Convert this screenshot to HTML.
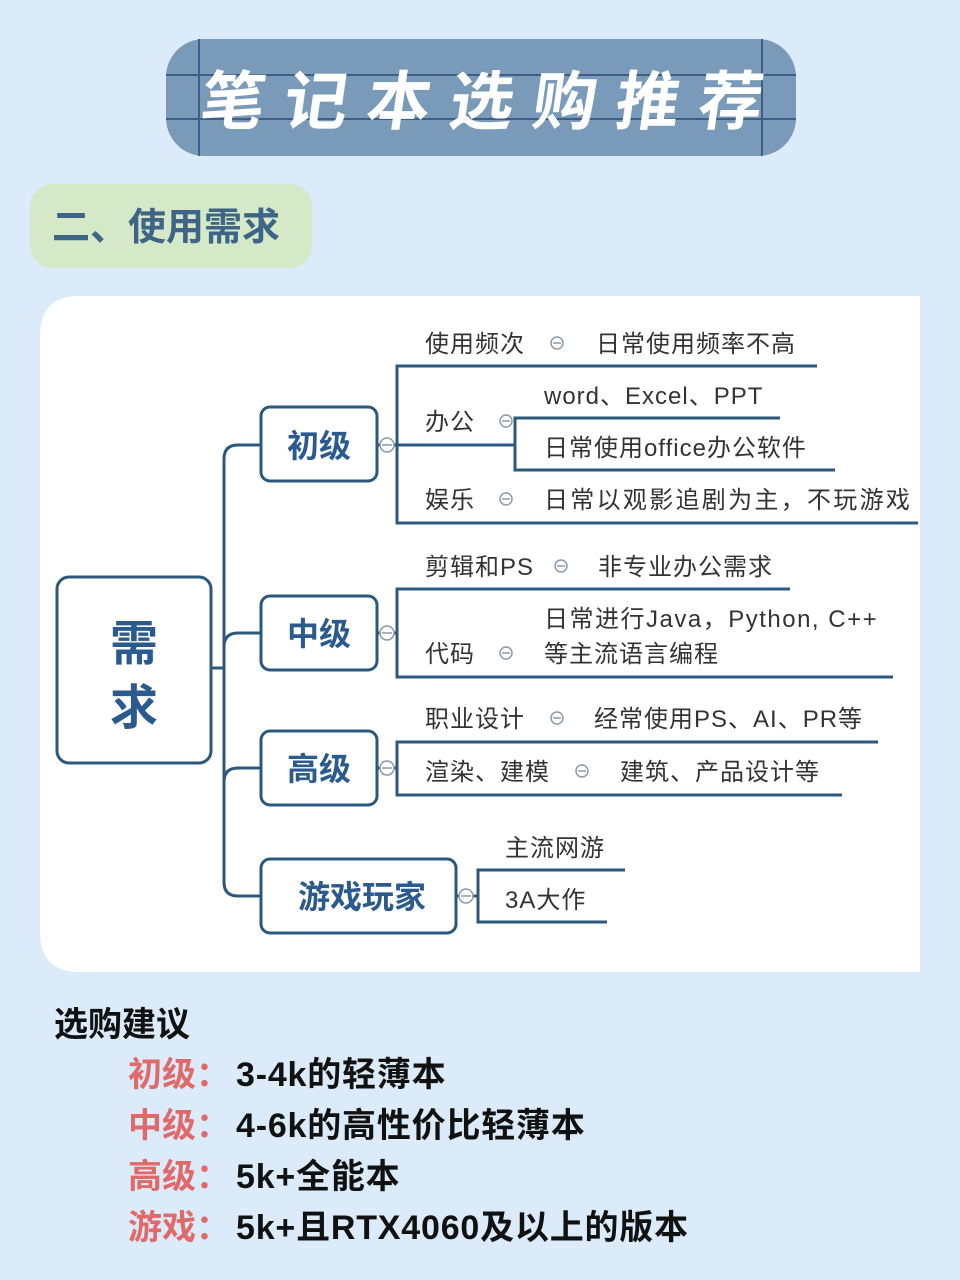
<!DOCTYPE html>
<html><head><meta charset="utf-8"><style>
html,body{margin:0;padding:0;background:#dbebfa;}
svg{display:block}
text{font-family:"Liberation Sans","Noto Sans CJK SC",sans-serif;}
</style></head><body>
<svg width="960" height="1280" viewBox="0 0 960 1280" xmlns="http://www.w3.org/2000/svg">
<rect width="960" height="1280" fill="#dbebfa"/>
<rect x="166" y="39" width="630" height="117" rx="38" fill="#7a9aba"/>
<g stroke="#3d5f86" stroke-width="2">
<line x1="166" y1="75" x2="796" y2="75"/>
<line x1="166" y1="119" x2="796" y2="119"/>
<line x1="199" y1="39" x2="199" y2="156"/>
<line x1="762" y1="39" x2="762" y2="156"/>
</g>
<text x="490" y="124" text-anchor="middle" font-size="64" font-weight="bold" fill="#fff" letter-spacing="19" transform="skewX(-8) translate(16,0)">笔记本选购推荐</text>
<rect x="30" y="184" width="282" height="84" rx="22" fill="#d5e9c9"/>
<text x="52" y="240" font-size="38" font-weight="bold" fill="#3f6586">二、使用需求</text>
<path d="M80 296 H920 V972 H80 Q40 972 40 932 V336 Q40 296 80 296Z" fill="#fff"/>
<g fill="none" stroke="#2c587c" stroke-width="3">
<rect x="57" y="577" width="154" height="186" rx="12"/>
<rect x="261" y="407" width="116" height="74" rx="9"/>
<rect x="261" y="596" width="116" height="74" rx="9"/>
<rect x="261" y="731" width="116" height="74" rx="9"/>
<rect x="261" y="859" width="195" height="74" rx="9"/>
<line x1="211" y1="668" x2="224" y2="668"/>
<path d="M261 445 H238 Q224 445 224 459 V882 Q224 896 238 896 H261"/>
<path d="M224 647 Q224 633 238 633 H261"/>
<path d="M224 782 Q224 768 238 768 H261"/>
<line x1="377" y1="445" x2="397" y2="445"/>
<path d="M817 366 H397 V523 H918"/>
<line x1="397" y1="445" x2="515" y2="445"/>
<path d="M780 418 H515 V470 H835"/>
<line x1="377" y1="633" x2="397" y2="633"/>
<path d="M790 589 H397 V677 H893"/>
<line x1="377" y1="768" x2="397" y2="768"/>
<path d="M878 742 H397 V795 H842"/>
<line x1="456" y1="896" x2="478" y2="896"/>
<path d="M625 870 H478 V922 H607"/>
</g>
<g fill="#fff" stroke="#8a9aa6" stroke-width="1.5">
<circle cx="387" cy="445" r="7"/><circle cx="387" cy="633" r="7"/><circle cx="387" cy="768" r="7"/><circle cx="466" cy="896" r="7"/>
<circle cx="557" cy="343" r="6"/><circle cx="506" cy="421" r="6"/><circle cx="506" cy="499" r="6"/>
<circle cx="561" cy="566" r="6"/><circle cx="506" cy="653" r="6"/>
<circle cx="557" cy="718" r="6"/><circle cx="582" cy="771" r="6"/>
</g>
<g stroke="#8a9aa6" stroke-width="1.5">
<line x1="382" y1="445" x2="392" y2="445"/><line x1="382" y1="633" x2="392" y2="633"/><line x1="382" y1="768" x2="392" y2="768"/><line x1="461" y1="896" x2="471" y2="896"/>
<line x1="553" y1="343" x2="561" y2="343"/><line x1="502" y1="421" x2="510" y2="421"/><line x1="502" y1="499" x2="510" y2="499"/>
<line x1="557" y1="566" x2="565" y2="566"/><line x1="502" y1="653" x2="510" y2="653"/>
<line x1="553" y1="718" x2="561" y2="718"/><line x1="578" y1="771" x2="586" y2="771"/>
</g>
<g font-weight="bold" fill="#2a5a8e" text-anchor="middle">
<text x="134" y="660" font-size="48">需</text>
<text x="134" y="724" font-size="48">求</text>
<text x="319" y="457" font-size="32">初级</text>
<text x="319" y="645" font-size="32">中级</text>
<text x="319" y="780" font-size="32">高级</text>
<text x="362" y="908" font-size="32">游戏玩家</text>
</g>
<g font-size="24" fill="#333" letter-spacing="1">
<text x="425" y="352">使用频次</text><text x="596" y="352">日常使用频率不高</text>
<text x="425" y="430">办公</text>
<text x="544" y="404">word、Excel、PPT</text>
<text x="544" y="456">日常使用office办公软件</text>
<text x="425" y="508">娱乐</text><text x="544" y="508" letter-spacing="2.3">日常以观影追剧为主，不玩游戏</text>
<text x="425" y="575">剪辑和PS</text><text x="598" y="575">非专业办公需求</text>
<text x="544" y="627" letter-spacing="1.5">日常进行Java，Python, C++</text>
<text x="425" y="662">代码</text><text x="544" y="662">等主流语言编程</text>
<text x="425" y="727">职业设计</text><text x="594" y="727">经常使用PS、AI、PR等</text>
<text x="425" y="780">渲染、建模</text><text x="620" y="780">建筑、产品设计等</text>
<text x="505" y="856">主流网游</text>
<text x="505" y="908">3A大作</text>
</g>
<text x="54" y="1036" font-size="34" fill="#111" font-weight="bold">选购建议</text>
<g font-size="34" font-weight="bold" fill="#e06a6a">
<text x="128" y="1086">初级：</text>
<text x="128" y="1137">中级：</text>
<text x="128" y="1188">高级：</text>
<text x="128" y="1239">游戏：</text>
</g>
<g font-size="34" font-weight="bold" fill="#111" letter-spacing="0.8">
<text x="236" y="1086">3-4k的轻薄本</text>
<text x="236" y="1137">4-6k的高性价比轻薄本</text>
<text x="236" y="1188">5k+全能本</text>
<text x="236" y="1239">5k+且RTX4060及以上的版本</text>
</g>
</svg>
</body></html>
